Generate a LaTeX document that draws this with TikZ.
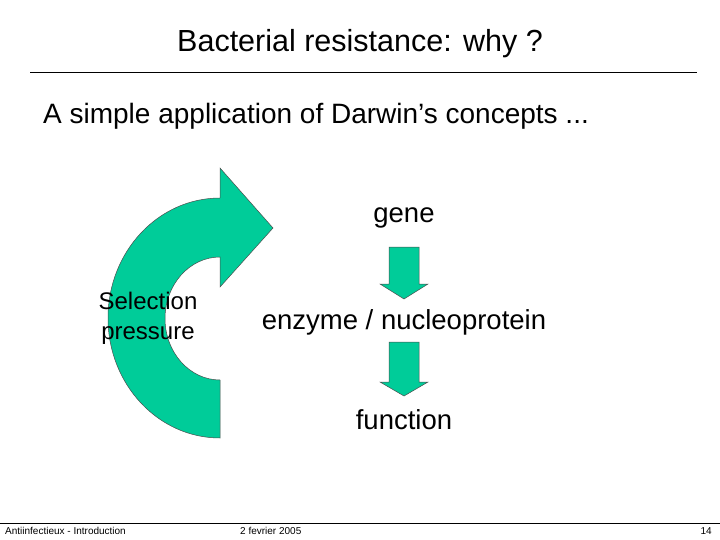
\documentclass[tikz,border=0pt]{standalone}
\usepackage{fontspec}
\setmainfont{Liberation Sans}
\definecolor{grn}{RGB}{0,204,153}
\begin{document}
\begin{tikzpicture}[x=1pt,y=-1pt,
  shp/.style={fill=grn,draw=black!70,line width=0.5pt,line join=miter},
  lbl/.style={inner sep=0pt,font=\fontsize{27.5}{30}\selectfont},
  foot/.style={inner sep=0pt,font=\fontsize{10}{12}\selectfont}]
\useasboundingbox (0,0) rectangle (720,540);
\node[inner sep=0pt,font=\fontsize{30.5}{34}\selectfont] (title) at (360,44) {Bacterial resistance: why ?};
\draw[line width=0.6pt] (30,72) -- (697,72);
\node[inner sep=0pt,anchor=west,font=\fontsize{28}{32}\selectfont] (sub) at (43,116) {A simple application of Darwin’s concepts ...};
% curved arrow
\draw[shp] (220,198) arc[start angle=270,end angle=90,x radius=112,y radius=120]
  -- (220,380) arc[start angle=90,end angle=270,x radius=55,y radius=61.5]
  -- (220,287) -- (273,228) -- (220,168) -- cycle;
\node[lbl,align=center,font=\fontsize{24}{30}\selectfont] (sel) at (148,318) {Selection\\pressure};
\node[lbl] (gene) at (404,218) {gene};
\node[lbl] (enz) at (404,322) {enzyme / nucleoprotein};
\node[lbl] (fun) at (404,420) {function};
\draw[shp] (389,247) -- (419,247) -- (419,284) -- (428,284) -- (404,299) -- (380,284) -- (389,284) -- cycle;
\draw[shp] (389,342) -- (419,342) -- (419,382) -- (428,382) -- (404,396) -- (380,382) -- (389,382) -- cycle;
\draw[line width=0.8pt] (0,523) -- (720,523);
\node[foot,anchor=west] (f1) at (5,531) {Antiinfectieux - Introduction};
\node[foot,anchor=west] (f2) at (240,531) {2 fevrier 2005};
\node[foot,anchor=east] (f3) at (712,531) {14};
\end{tikzpicture}
\end{document}
